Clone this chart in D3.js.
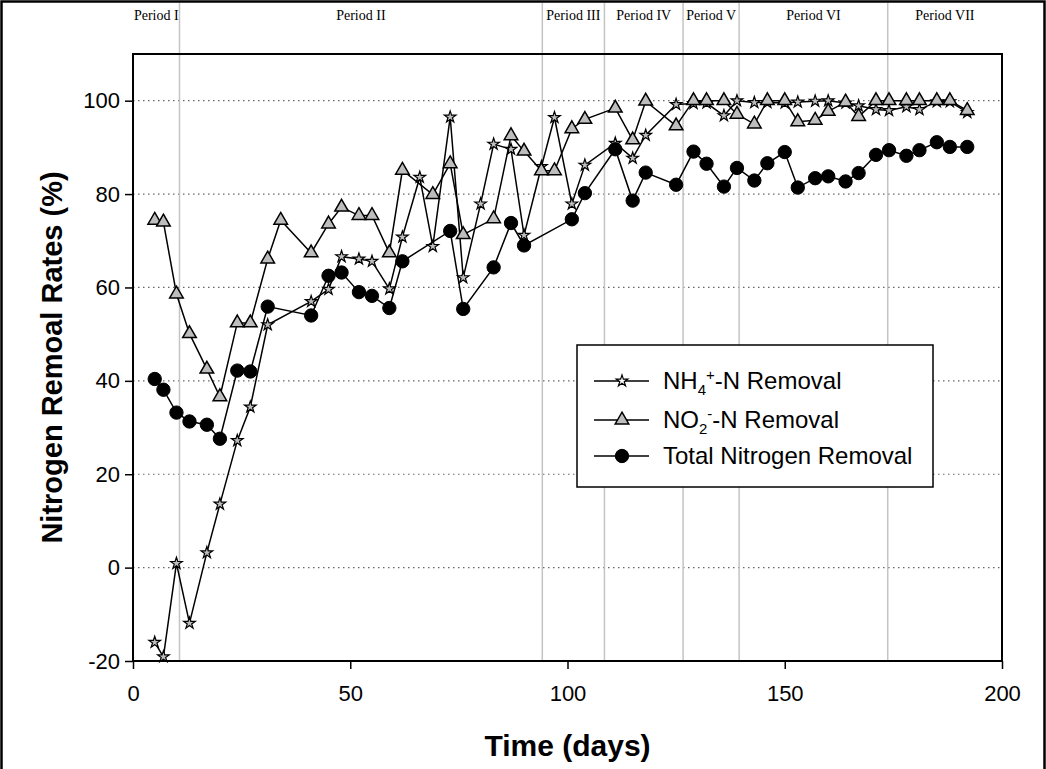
<!DOCTYPE html>
<html>
<head>
<meta charset="utf-8">
<script src="https://cdn.jsdelivr.net/npm/d3@7"></script>
<style>
  body { margin: 0; background: #fff; }
  svg { display: block; }
</style>
</head>
<body>
<svg id="chart"></svg>
<script>
// NH4+-N removal (stars)
const nh4Days = [5, 7, 10, 13, 17, 20, 24, 27, 31, 41, 45, 48, 52, 55, 59, 62, 66, 69, 73, 76, 80, 83, 87, 90, 94, 97,
  101, 104, 111, 115, 118, 125, 129, 132, 136, 139, 143, 146, 150, 153, 157, 160, 164, 167, 171, 174, 178, 181, 185, 188, 192];
const nh4Values = [-16.0, -19.1, 0.9, -11.9, 3.2, 13.6, 27.2, 34.4, 52.0, 57.0, 59.6, 66.6, 66.1, 65.6, 59.7, 70.8, 83.6, 68.8, 96.5, 62.1, 77.9, 90.7, 89.6, 71.2, 85.9, 96.4,
  77.9, 86.2, 90.9, 87.7, 92.6, 99.2, 99.4, 99.5, 96.8, 100, 99.6, 99.6, 99.5, 99.7, 99.9, 100, 99.5, 98.9, 98.1, 97.9, 98.7, 98.1, 99.8, 99.8, 97.5];

// NO2--N removal (triangles)
const no2Days = [5, 7, 10, 13, 17, 20, 24, 27, 31, 34, 41, 45, 48, 52, 55, 59, 62, 69, 73, 76, 83, 87, 90, 94, 97,
  101, 104, 111, 115, 118, 125, 129, 132, 136, 139, 143, 146, 150, 153, 157, 160, 164, 167, 171, 174, 178, 181, 185, 188, 192];
const no2Values = [74.4, 74.0, 58.6, 50.1, 42.5, 36.6, 52.4, 52.4, 66.1, 74.4, 67.4, 73.6, 77.2, 75.4, 75.4, 67.4, 85.1, 79.9, 86.5, 71.3, 74.7, 92.5, 89.2, 85.0, 85.0,
  94.0, 96.0, 98.4, 91.6, 99.9, 94.6, 100, 100, 100, 97.1, 95.0, 100, 100, 95.5, 95.8, 97.7, 99.7, 96.6, 100, 100, 100, 100, 100, 100, 97.9];

// Total nitrogen removal (circles)
const tnDays = [5, 7, 10, 13, 17, 20, 24, 27, 31, 41, 45, 48, 52, 55, 59, 62, 73, 76, 83, 87, 90,
  101, 104, 111, 115, 118, 125, 129, 132, 136, 139, 143, 146, 150, 153, 157, 160, 164, 167, 171, 174, 178, 181, 185, 188, 192];
const tnValues = [40.4, 38.1, 33.2, 31.3, 30.6, 27.6, 42.2, 42.0, 55.9, 54.0, 62.5, 63.2, 59.0, 58.2, 55.6, 65.6, 72.1, 55.4, 64.3, 73.8, 69.0,
  74.6, 80.2, 89.6, 78.6, 84.6, 82.0, 89.1, 86.5, 81.6, 85.6, 82.9, 86.6, 89.0, 81.4, 83.4, 83.8, 82.7, 84.5, 88.4, 89.4, 88.2, 89.4, 91.1, 90.1, 90.1];

// period boundaries (days) and labels
const periodBounds = [10.7, 94.2, 108.5, 126.6, 139.5, 173.7];
const periodLabels = ['Period I', 'Period II', 'Period III', 'Period IV', 'Period V', 'Period VI', 'Period VII'];

const xTicks = [0, 50, 100, 150, 200];
const yTicks = [-20, 0, 20, 40, 60, 80, 100];

const width = 1046;
const height = 769;
const sans = '"Liberation Sans", Arial, sans-serif';

const svg = d3.select('#chart')
  .attr('width', width)
  .attr('height', height);

const x = d3.scaleLinear().domain([0, 200]).range([133, 1002]);
const y = d3.scaleLinear().domain([-20, 110]).range([661, 54]);

// outer frame of the figure
svg.append('rect')
  .attr('x', 1.5).attr('y', 1.5)
  .attr('width', width - 3).attr('height', height + 10)
  .attr('fill', 'none').attr('stroke', '#000').attr('stroke-width', 2.5);

// horizontal dotted gridlines
svg.append('g')
  .selectAll('line')
  .data(yTicks.filter(d => d > -20))
  .enter().append('line')
  .attr('x1', x(0)).attr('x2', x(200))
  .attr('y1', d => y(d)).attr('y2', d => y(d))
  .attr('stroke', '#666')
  .attr('stroke-width', 1.2)
  .attr('stroke-dasharray', '1.5,3.5');

// period separators
svg.append('g')
  .selectAll('line')
  .data(periodBounds)
  .enter().append('line')
  .attr('x1', d => x(d)).attr('x2', d => x(d))
  .attr('y1', 3).attr('y2', y(-20))
  .attr('stroke', '#c4c4c4')
  .attr('stroke-width', 1.5);

// period labels, centred in each period
const edges = [0, ...periodBounds, 200];
svg.append('g')
  .selectAll('text')
  .data(periodLabels)
  .enter().append('text')
  .attr('x', (d, i) => (x(edges[i]) + x(edges[i + 1])) / 2)
  .attr('y', 20)
  .attr('text-anchor', 'middle')
  .style('font-family', '"Liberation Serif", "Times New Roman", serif')
  .style('font-size', '14px')
  .text(d => d);

// axes
const xAxis = svg.append('g')
  .attr('transform', `translate(0,${y(-20)})`)
  .call(d3.axisBottom(x).tickValues(xTicks).tickSize(8).tickPadding(16).tickFormat(d => String(d)));
const yAxis = svg.append('g')
  .attr('transform', `translate(${x(0)},0)`)
  .call(d3.axisLeft(y).tickValues(yTicks).tickSize(8).tickPadding(5).tickFormat(d => String(d)));

[xAxis, yAxis].forEach(g => {
  g.select('.domain').remove();
  g.selectAll('line').attr('stroke', '#000').attr('stroke-width', 1.5);
  g.selectAll('text').style('font-family', sans).style('font-size', '22px').attr('fill', '#000');
});

// plot box
svg.append('rect')
  .attr('x', x(0)).attr('y', y(110))
  .attr('width', x(200) - x(0)).attr('height', y(-20) - y(110))
  .attr('fill', 'none').attr('stroke', '#000').attr('stroke-width', 2);

// axis titles
svg.append('text')
  .attr('x', (x(0) + x(200)) / 2)
  .attr('y', 756)
  .attr('text-anchor', 'middle')
  .style('font-family', sans).style('font-size', '30px').style('font-weight', 'bold')
  .text('Time (days)');

svg.append('text')
  .attr('transform', `translate(62,${(y(110) + y(-20)) / 2}) rotate(-90)`)
  .attr('text-anchor', 'middle')
  .style('font-family', sans).style('font-size', '29px').style('font-weight', 'bold')
  .text('Nitrogen Remoal Rates (%)');

// series
const line = d3.line().x(d => x(d[0])).y(d => y(d[1]));

const series = [
  { days: nh4Days, values: nh4Values, symbol: d3.symbolStar, size: 42, fill: '#bdbdbd', sw: 1.2 },
  { days: no2Days, values: no2Values, symbol: d3.symbolTriangle, size: 80, fill: '#bdbdbd', sw: 1.5 },
  { days: tnDays, values: tnValues, symbol: d3.symbolCircle, size: 140, fill: '#000', sw: 1 }
];

series.forEach(s => {
  const pts = s.days.map((d, i) => [d, s.values[i]]);
  const g = svg.append('g');
  g.append('path')
    .datum(pts)
    .attr('d', line)
    .attr('fill', 'none')
    .attr('stroke', '#000')
    .attr('stroke-width', 1.5);
  g.selectAll('path.pt')
    .data(pts)
    .enter().append('path')
    .attr('class', 'pt')
    .attr('transform', d => `translate(${x(d[0])},${y(d[1])})`)
    .attr('d', d3.symbol().type(s.symbol).size(s.size))
    .attr('fill', s.fill)
    .attr('stroke', '#000')
    .attr('stroke-width', s.sw);
});

// legend
const legend = svg.append('g').attr('transform', 'translate(577,345)');
legend.append('rect')
  .attr('width', 356).attr('height', 142)
  .attr('fill', '#fff').attr('stroke', '#000').attr('stroke-width', 1.5);

const legendRows = [36, 75, 111];
series.forEach((s, i) => {
  const row = legend.append('g').attr('transform', `translate(0,${legendRows[i]})`);
  row.append('line').attr('x1', 17).attr('x2', 72).attr('stroke', '#000').attr('stroke-width', 1.5);
  row.append('path')
    .attr('transform', 'translate(45,0)')
    .attr('d', d3.symbol().type(s.symbol).size(s.size))
    .attr('fill', i === 0 ? '#fff' : s.fill)
    .attr('stroke', '#000')
    .attr('stroke-width', s.sw);
});

function legendText(i) {
  return legend.append('text')
    .attr('x', 86).attr('y', legendRows[i] + 8)
    .style('font-family', sans).style('font-size', '24px');
}

const t1 = legendText(0);
t1.append('tspan').text('NH');
t1.append('tspan').attr('dy', 6).style('font-size', '15px').text('4');
t1.append('tspan').attr('dy', -15).style('font-size', '15px').text('+');
t1.append('tspan').attr('dy', 9).text('-N Removal');

const t2 = legendText(1);
t2.append('tspan').text('NO');
t2.append('tspan').attr('dy', 6).style('font-size', '15px').text('2');
t2.append('tspan').attr('dy', -15).style('font-size', '15px').text('-');
t2.append('tspan').attr('dy', 9).text('-N Removal');

legendText(2).text('Total Nitrogen Removal');
</script>
</body>
</html>
